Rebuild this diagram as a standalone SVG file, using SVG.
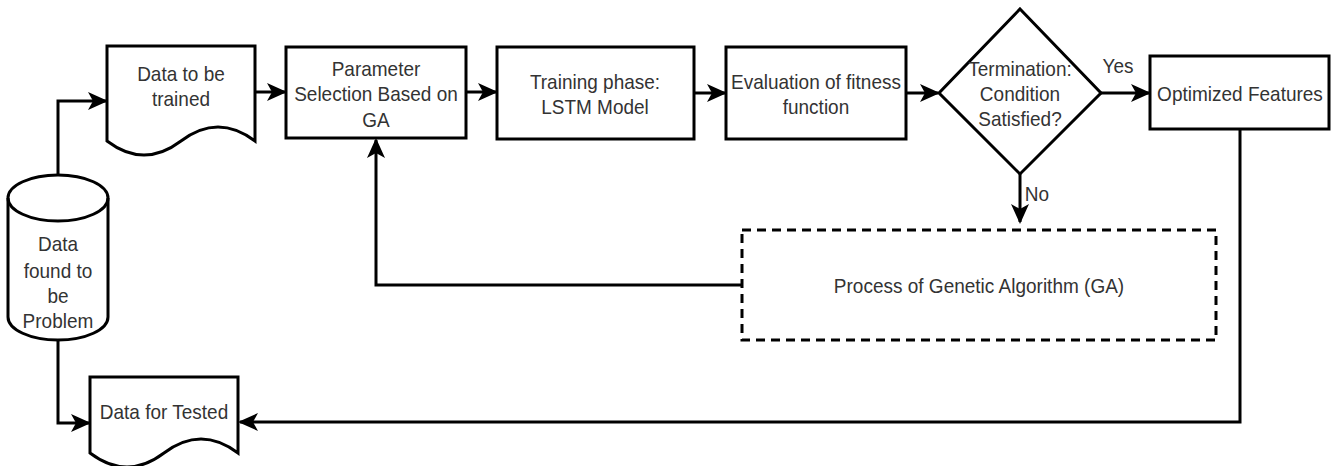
<svg xmlns="http://www.w3.org/2000/svg" width="1336" height="466" viewBox="0 0 1336 466">
<defs>
<style>
.s{fill:#fff;stroke:#000;stroke-width:3}
.d{fill:#fff;stroke:#000;stroke-width:3;stroke-dasharray:9,6}
.c{fill:none;stroke:#000;stroke-width:3}
text{font-family:"Liberation Sans",Arial,sans-serif;font-size:19px;fill:#333;text-anchor:middle;transform-box:fill-box;transform-origin:center;transform:scaleY(1.1)}
</style>
<marker id="a" viewBox="0 0 20 20" refX="18" refY="10" markerWidth="20" markerHeight="20" markerUnits="userSpaceOnUse" orient="auto">
<path d="M0,1 L20,10 L0,19 L5,10 Z" fill="#000"/>
</marker>
</defs>
<rect width="1336" height="466" fill="#fff"/>
<g id="connectors">
<path class="c" d="M58,175 V101 H106" marker-end="url(#a)"/>
<path class="c" d="M255,92 H285" marker-end="url(#a)"/>
<path class="c" d="M466,92 H496" marker-end="url(#a)"/>
<path class="c" d="M694,93 H725" marker-end="url(#a)"/>
<path class="c" d="M906,93 H938" marker-end="url(#a)"/>
<path class="c" d="M1101,93 H1149" marker-end="url(#a)"/>
<path class="c" d="M1020,174 V222" marker-end="url(#a)"/>
<path class="c" d="M742,285 H376 V140" marker-end="url(#a)"/>
<path class="c" d="M1240,129 V422 H240" marker-end="url(#a)"/>
<path class="c" d="M58,340 V423 H89" marker-end="url(#a)"/>
<text x="1118" y="72">Yes</text>
<text x="1037" y="200">No</text>
</g>
<g id="cyl">
<path class="s" d="M8,198 A50,23 0 0 1 108,198 V317 A50,23 0 0 1 8,317 Z"/>
<path class="c" d="M8,198 A50,23 0 0 0 108,198"/>
<text x="58" y="250">Data</text>
<text x="58" y="277">found to</text>
<text x="58" y="302">be</text>
<text x="58" y="327">Problem</text>
</g>
<g id="train">
<path class="s" d="M107,46 H255 V141 Q218,113 181,141 Q144,169 107,141 Z"/>
<text x="181" y="80">Data to be</text>
<text x="181" y="105">trained</text>
</g>
<g id="param">
<rect class="s" x="286" y="47" width="180" height="91"/>
<text x="376" y="75">Parameter</text>
<text x="376" y="100">Selection Based on</text>
<text x="376" y="126">GA</text>
</g>
<g id="lstm">
<rect class="s" x="497" y="47" width="197" height="92"/>
<text x="595" y="88">Training phase:</text>
<text x="595" y="113">LSTM Model</text>
</g>
<g id="eval">
<rect class="s" x="726" y="47" width="180" height="92"/>
<text x="816" y="88">Evaluation of fitness</text>
<text x="816" y="113">function</text>
</g>
<g id="cond">
<path class="s" d="M1020,9 L1101,93 L1020,174 L939,93 Z"/>
<text x="1020" y="75">Termination:</text>
<text x="1020" y="100">Condition</text>
<text x="1020" y="125">Satisfied?</text>
</g>
<g id="opt">
<rect class="s" x="1150" y="56" width="179" height="73"/>
<text x="1240" y="100">Optimized Features</text>
</g>
<g id="ga">
<rect class="d" x="742" y="230" width="474" height="110"/>
<text x="979" y="292">Process of Genetic Algorithm (GA)</text>
</g>
<g id="test">
<path class="s" d="M90,377 H238 V453 Q201,425 164,453 Q127,481 90,453 Z"/>
<text x="164" y="418">Data for Tested</text>
</g>
</svg>
